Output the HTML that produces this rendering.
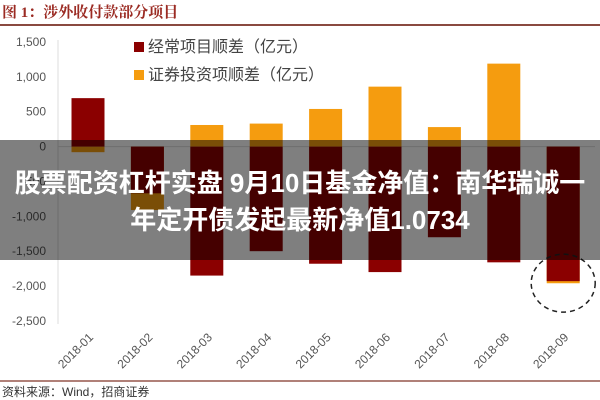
<!DOCTYPE html>
<html><head><meta charset="utf-8"><style>
body{margin:0;width:600px;height:400px;background:#fff;overflow:hidden;position:relative;font-family:"Liberation Sans","Noto Sans CJK SC",sans-serif}
#title{position:absolute;left:2px;top:1px;font-family:"Liberation Serif","Noto Serif CJK SC",serif;font-weight:bold;color:#9b2b23;font-size:15px}
#rule1{position:absolute;left:0;top:24px;width:600px;height:2px;background:#8a4a40}
#rule2{position:absolute;left:0;top:380px;width:600px;height:2px;background:#b08078}
#src{position:absolute;left:2px;top:383px;font-size:12px;color:#333}
#overlay{position:absolute;left:0;top:140px;width:600px;height:120px;background:rgba(0,0,0,0.5);color:#fff;font-weight:bold;font-size:26px;text-align:center;line-height:37px;padding-top:25px;box-sizing:border-box;white-space:nowrap}
svg{position:absolute;left:0;top:0}
</style></head><body>
<div id="title">图 1：涉外收付款部分项目</div>
<div id="rule1"></div>
<svg id="chart" width="600" height="400"></svg>
<div id="rule2"></div>
<div id="src">资料来源：Wind，招商证券</div>
<div id="overlay">股票配资杠杆实盘 9月10日基金净值：南华瑞诚一<br>年定开债发起最新净值1.0734</div>
<script>
const categories=["2018-01","2018-02","2018-03","2018-04","2018-05","2018-06","2018-07","2018-08","2018-09"];
const currentAccount=[695,-670,-1850,-1500,-1680,-1800,-1300,-1660,-1930];
const securities=[-80,-910,310,330,540,860,280,1190,-1960];
const yTicks=[1500,1000,500,0,-500,-1000,-1500,-2000,-2500];
const yTickLabels=["1,500","1,000","500","0","-500","-1,000","-1,500","-2,000","-2,500"];
const ns="http://www.w3.org/2000/svg";
const svg=document.getElementById('chart');
const y=v=>146.6-v*(34.86/500);
const x=i=>88+i*59.4;
function mk(t,a){const e=document.createElementNS(ns,t);for(const k in a)e.setAttribute(k,a[k]);svg.appendChild(e);return e;}
let ax=mk('line',{x1:58,x2:58,y1:40,y2:324,stroke:'#ddd'});


yTicks.forEach((v,i)=>{
 const t=mk('text',{x:46,y:y(v)+4,'text-anchor':'end','font-size':12,fill:'#555'});
 t.textContent=yTickLabels[i];
 
 
});
let zl=mk('line',{x1:58,x2:595,y1:y(0),y2:y(0),stroke:'#ddd'});


const bw=33;
categories.forEach((c,i)=>{
 const s=securities[i];
 const r1=mk('rect',{x:x(i)-bw/2,y:Math.min(y(0),y(s)),width:bw,height:Math.abs(y(s)-y(0)),fill:'#f59c0f'});
 
 
 const v=currentAccount[i];
 const r2=mk('rect',{x:x(i)-bw/2,y:Math.min(y(0),y(v)),width:bw,height:Math.abs(y(v)-y(0)),fill:'#8b0000'});
 
 
 const t=mk('text',{x:x(i)+6,y:338,'text-anchor':'end','font-size':12,fill:'#555',transform:`rotate(-45 ${x(i)+6} 338)`});
 t.textContent=c;
 
 
});
let circ=mk('ellipse',{cx:x(8),cy:y(-1930)+2,rx:32,ry:29,fill:'none',stroke:'#222','stroke-width':1.5,'stroke-dasharray':'5,4'});


const leg=[["#8b0000","经常项目顺差（亿元）",50],["#f59c0f","证券投资项顺差（亿元）",78]];
leg.forEach(l=>{
 const r=mk('rect',{x:134,y:l[2]-8,width:10,height:10,fill:l[0]});
 
 
 const t=mk('text',{x:148,y:l[2]+2,'font-size':16,fill:'#444'});
 t.textContent=l[1];
 
 
});
</script>
</body></html>
